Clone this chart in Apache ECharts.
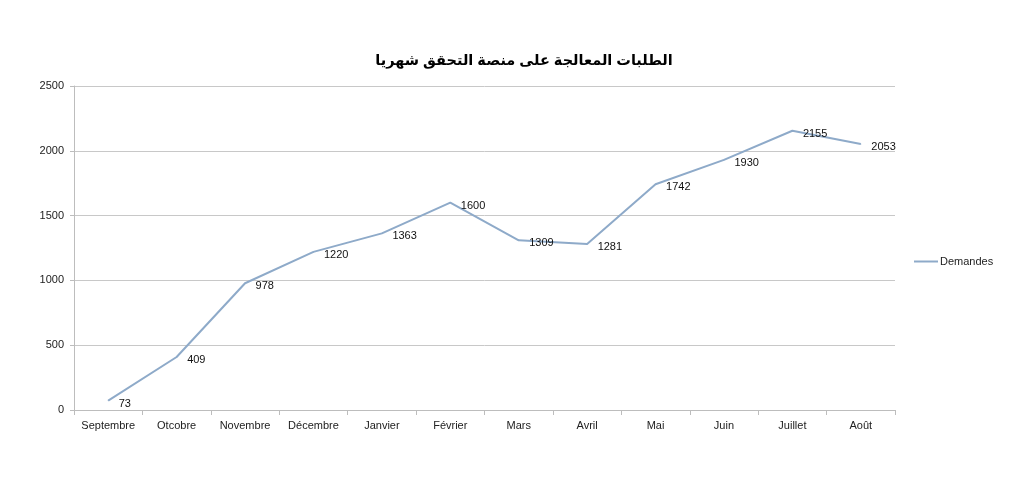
<!DOCTYPE html>
<html><head><meta charset="utf-8">
<script src="https://cdn.jsdelivr.net/npm/echarts@6/dist/echarts.min.js"></script>
<style>html,body{margin:0;padding:0;background:#fff}#c{width:1024px;height:484px}</style>
</head><body><div id="c"></div>
<script>
const titleText = 'الطلبات المعالجة على منصة التحقق شهريا';
const categories = ['Septembre','Otcobre','Novembre','Décembre','Janvier','Février','Mars','Avril','Mai','Juin','Juillet','Août'];
const seriesName = 'Demandes';
const demandes = [73,409,978,1220,1363,1600,1309,1281,1742,1930,2155,2053];
const yTicks = {min:0, max:2500, interval:500};

const chart = echarts.init(document.getElementById('c'));
chart.setOption({
  animation:false,
  backgroundColor:'#fff',
  title:{text:titleText,left:519,textAlign:'center',top:48,textStyle:{fontFamily:'Liberation Sans, DejaVu Sans',fontSize:14.5,fontWeight:'bold',color:'#000'}},
  legend:{data:[{name:seriesName,icon:'rect'}],orient:'vertical',left:909,top:251,itemWidth:24,itemHeight:2,itemGap:4,
    itemStyle:{color:'#8eaac9'},
    textStyle:{fontFamily:'Liberation Sans, DejaVu Sans',fontSize:11,color:'#222',padding:[0,0,0,-3]}},
  grid:{left:74,right:129,top:86,bottom:74,containLabel:false},
  xAxis:{type:'category',data:categories,boundaryGap:true,
    axisLine:{lineStyle:{color:'#bdbdbd',width:1}},
    axisTick:{show:true,length:5,lineStyle:{color:'#bdbdbd'}},
    axisLabel:{interval:0,color:'#222',fontSize:11,margin:10,fontFamily:'Liberation Sans, DejaVu Sans'}},
  yAxis:{type:'value',min:yTicks.min,max:yTicks.max,interval:yTicks.interval,
    axisLine:{show:true,lineStyle:{color:'#bdbdbd',width:1}},
    axisTick:{show:true,length:4,lineStyle:{color:'#bdbdbd'}},
    splitLine:{lineStyle:{color:'#c8c8c8',width:1}},
    axisLabel:{color:'#222',fontSize:11,margin:10,formatter:v=>String(v),fontFamily:'Liberation Sans, DejaVu Sans'}},
  series:[{name:seriesName,type:'line',data:demandes,symbol:'circle',symbolSize:1,showSymbol:true,
    lineStyle:{color:'#8eaac9',width:2},itemStyle:{color:'#8eaac9'},
    label:{show:true,position:'right',distance:10,offset:[0,3],color:'#111',fontSize:11,fontFamily:'Liberation Sans, DejaVu Sans'}}]
});
</script></body></html>
